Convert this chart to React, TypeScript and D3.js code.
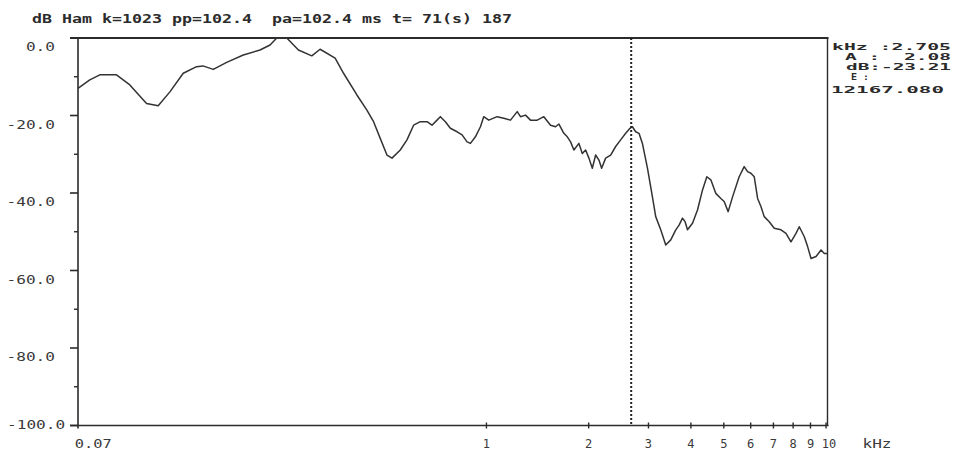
import React from "react";
import * as d3 from "d3";

// ---- data ----
const freqKHz = [
  0.0627, 0.0679, 0.0727, 0.0814, 0.0891, 0.0998, 0.108, 0.1169, 0.128, 0.1401,
  0.1463, 0.1569, 0.1718, 0.1923, 0.2154, 0.2306, 0.2413, 0.2583, 0.2795, 0.306,
  0.3237, 0.3585, 0.3795, 0.4155, 0.4446, 0.4652, 0.4867, 0.5094, 0.5271, 0.5575,
  0.5835, 0.6102, 0.6386, 0.6683, 0.6913, 0.7153, 0.7317, 0.757, 0.783, 0.8195,
  0.8478, 0.877, 0.8971, 0.928, 0.9601, 0.9818, 1.0157, 1.0754, 1.1246, 1.1771,
  1.232, 1.2598, 1.3032, 1.3482, 1.4111, 1.4757, 1.5445, 1.5979, 1.6345, 1.6904,
  1.7302, 1.7693, 1.8093, 1.8719, 1.9156, 1.959, 2.0035, 2.0502, 2.0966, 2.1444,
  2.1838, 2.2439, 2.3216, 2.4017, 2.4846, 2.5704, 2.6467, 2.6903, 2.7511, 2.8137,
  2.8793, 2.9785, 3.0816, 3.1512, 3.2605, 3.3729, 3.4896, 3.6101, 3.6925, 3.7785,
  3.8459, 3.9084, 4.0441, 4.1834, 4.3283, 4.4566, 4.5793, 4.737, 4.9006, 5.0119,
  5.1501, 5.3066, 5.5488, 5.7412, 5.8749, 6.0089, 6.1448, 6.2878, 6.4312, 6.5766,
  6.803, 7.0388, 7.3672, 7.6208, 7.885, 8.1565, 8.3409, 8.6298, 8.8308, 9.0324,
  9.3438, 9.6673, 9.8855, 10.1,
];
const levelDb = [
  -13.0, -10.8, -9.5, -9.5, -12.1, -16.9, -17.5, -13.9, -9.1, -7.4,
  -7.2, -8.1, -6.3, -4.4, -3.1, -1.8, 0, 0, -3.1, -4.6,
  -2.9, -5.2, -9.1, -14.7, -18.6, -21.6, -25.9, -30.2, -31.0, -28.9,
  -26.3, -22.5, -21.6, -21.6, -22.5, -21.2, -20.3, -21.6, -23.3, -24.2,
  -25.0, -26.8, -27.2, -25.5, -22.9, -20.3, -21.2, -20.3, -20.7, -21.2,
  -19.0, -20.3, -19.9, -21.2, -21.2, -20.3, -22.5, -22.9, -22.2, -24.6,
  -25.5, -26.8, -28.9, -27.2, -29.8, -28.9, -31.0, -33.6, -30.2, -31.5,
  -33.6, -31.0, -30.2, -28.0, -26.3, -24.6, -23.3, -22.9, -24.2, -24.6,
  -27.2, -33.5, -41.0, -46.1, -49.5, -53.4, -52.1, -49.5, -48.3, -46.5,
  -47.4, -49.5, -47.8, -44.4, -39.2, -35.8, -36.6, -40.1, -41.4, -42.2,
  -44.8, -41.0, -35.8, -33.2, -34.5, -34.9, -35.8, -41.4, -43.5, -46.1,
  -47.4, -49.1, -49.5, -50.4, -52.6, -50.4, -48.7, -51.3, -53.9, -56.9,
  -56.4, -54.7, -55.6, -55.6,
];

const xDomain = [0.0627, 10.1];
const yDomain = [-100, 0];
const xTickValues = [1, 2, 3, 4, 5, 6, 7, 8, 9, 10];
const xTickLabels = ["1", "2", "3", "4", "5", "6", "7", "8", "9", "10"];
const xStartValue = 0.07;
const xStartLabel = "0.07";
const xUnit = "kHz";
const yTickValues = [0, -20, -40, -60, -80, -100];
const yTickLabels = ["0.0", "-20.0", "-40.0", "-60.0", "-80.0", "-100.0"];
const yMinorTicks = [-10, -30, -50, -70, -90];
const cursorKHz = 2.705;
const titleText = "dB Ham k=1023 pp=102.4  pa=102.4 ms t= 71(s) 187";
const readoutRows = ["kHz :2.705", "A :  2.08", "dB:-23.21", "E :", "12167.080"];

const W = 958;
const H = 452;
const L = 78;
const R = 827.5;
const T = 38;
const B = 425.5;

const INK = "#2b2b2b";
const MONO = "'DejaVu Sans Mono', 'Liberation Mono', monospace";

export default function App() {
  const x = d3.scaleLog().domain(xDomain).range([L, R]);
  const y = d3.scaleLinear().domain(yDomain).range([B, T]);
  const pts: [number, number][] = freqKHz.map((f, i) => [f, levelDb[i]]);
  const line = d3
    .line<[number, number]>()
    .x((d) => x(d[0]))
    .y((d) => y(d[1]));

  // readout rows: start x, end x, baseline
  const readLayout = [
    { s: 832, e: 951, by: 49.5 },
    { s: 845, e: 951, by: 59.5 },
    { s: 846, e: 951, by: 69.5 },
    { s: 851, e: 869, by: 79.5 },
    { s: 831, e: 944, by: 92.5 },
  ];

  return (
    <svg
      width={W}
      height={H}
      style={{ position: "absolute", left: 0, top: 0, background: "#fff" }}
    >
      <rect x={0} y={0} width={W} height={H} fill="#fff" />
      {/* title */}
      <text
        x={32}
        y={23}
        fontFamily={MONO}
        fontWeight="bold"
        fontSize={12}
        fill={INK}
        textLength={480}
        lengthAdjust="spacingAndGlyphs"
        style={{ whiteSpace: "pre" }}
      >
        {titleText}
      </text>

      {/* frame */}
      <line x1={70} x2={R + 1} y1={T} y2={T} stroke={INK} strokeWidth={2} />
      <line x1={L} x2={L} y1={T} y2={B + 3} stroke={INK} strokeWidth={1.6} />
      <line x1={70} x2={R + 1} y1={B} y2={B} stroke={INK} strokeWidth={1.6} />
      <line x1={R} x2={R} y1={T} y2={B} stroke={INK} strokeWidth={1.4} />

      {/* y ticks */}
      {yTickValues.map((v, i) => {
        const yy = y(v);
        const lab = yTickLabels[i];
        const long = lab.length > 5;
        const ty = Math.min(yy + 9, B - 1) + 4;
        return (
          <g key={"yt" + v}>
            <line x1={70} x2={L} y1={yy} y2={yy} stroke={INK} strokeWidth={1.6} />
            <text
              x={long ? 7 : 55}
              y={ty}
              textAnchor={long ? "start" : "end"}
              fontFamily={MONO}
              fontSize={11.5}
              fill="#3a3a3a"
              textLength={lab.length * 9.7}
              lengthAdjust="spacingAndGlyphs"
            >
              {lab}
            </text>
          </g>
        );
      })}
      {yMinorTicks.map((v) => (
        <line key={"ym" + v} x1={74} x2={L} y1={y(v)} y2={y(v)} stroke={INK} strokeWidth={1.4} />
      ))}

      {/* x ticks */}
      {xTickValues.map((v, i) => (
        <g key={"xt" + v}>
          <line x1={x(v)} x2={x(v)} y1={B - 3} y2={B + 3} stroke={INK} strokeWidth={1.4} />
          <text
            x={x(v) + (v === 10 ? 3 : 0)}
            y={448}
            textAnchor="middle"
            fontFamily={MONO}
            fontSize={12}
            fill="#3a3a3a"
          >
            {xTickLabels[i]}
          </text>
        </g>
      ))}
      <text
        x={x(xStartValue) - 1}
        y={448}
        textAnchor="middle"
        fontFamily={MONO}
        fontSize={12}
        fill="#3a3a3a"
        textLength={37}
        lengthAdjust="spacingAndGlyphs"
      >
        {xStartLabel}
      </text>
      <text
        x={877}
        y={448}
        textAnchor="middle"
        fontFamily={MONO}
        fontSize={12}
        fill="#3a3a3a"
        textLength={29}
        lengthAdjust="spacingAndGlyphs"
      >
        {xUnit}
      </text>

      {/* spectrum */}
      <path d={line(pts) || ""} fill="none" stroke="#333" strokeWidth={1.5} strokeLinejoin="round" />

      {/* cursor */}
      <line
        x1={x(cursorKHz) - 2}
        x2={x(cursorKHz) - 2}
        y1={T}
        y2={B}
        stroke="#222"
        strokeWidth={2}
        strokeDasharray="2,2"
      />

      {/* readout block */}
      <text fontFamily={MONO} fontWeight="bold" fontSize={9.5} fill={INK} style={{ whiteSpace: "pre" }}>
        {readoutRows.map((row, i) => {
          const p = readLayout[i];
          return (
            <tspan
              key={"rd" + i}
              x={p.s}
              y={p.by}
              textLength={p.e - p.s}
              lengthAdjust="spacingAndGlyphs"
            >
              {row}
            </tspan>
          );
        })}
      </text>
    </svg>
  );
}
